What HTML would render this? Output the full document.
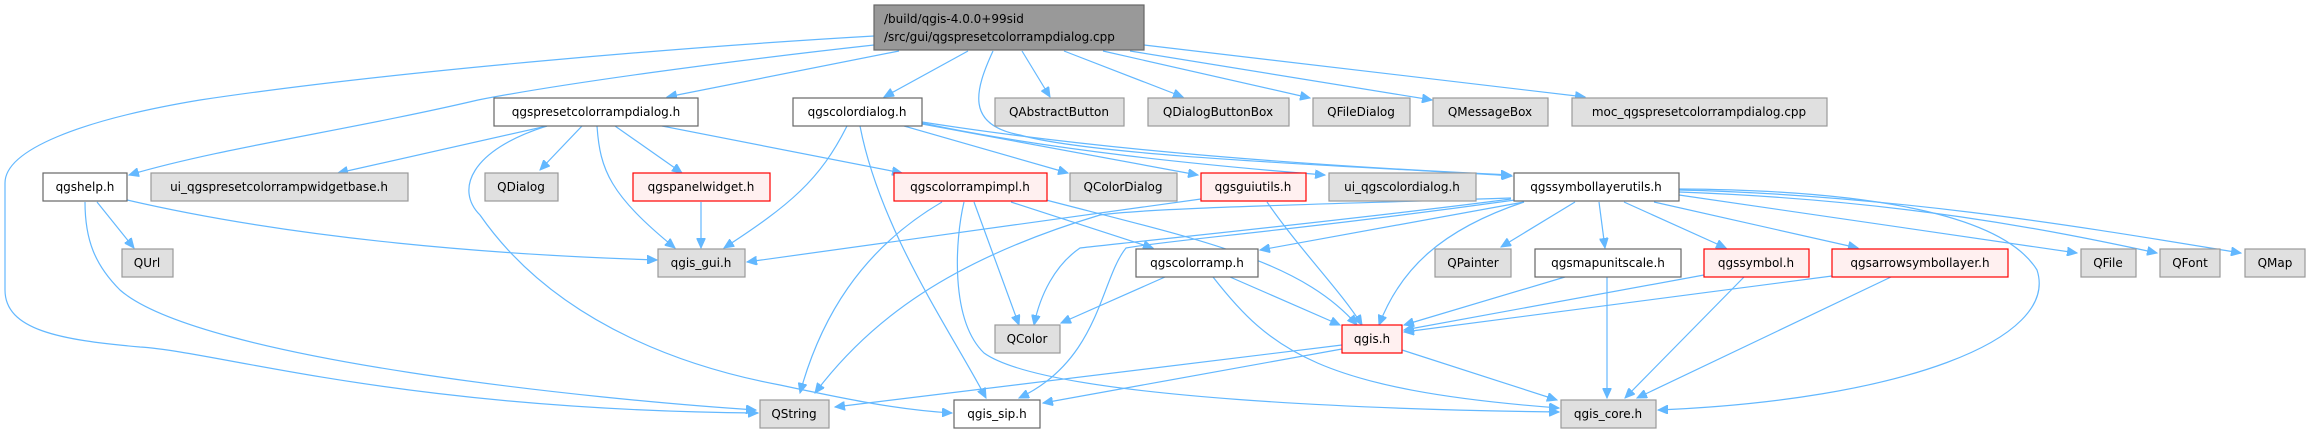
<!DOCTYPE html>
<html><head><meta charset="utf-8"><style>
html,body{margin:0;padding:0;background:#fff;}
svg{display:block;}
text{font-family:"DejaVu Sans","Liberation Sans",sans-serif;font-size:12px;fill:#000;}
.e{fill:none;stroke:#63b8ff;stroke-width:1.2;}
.w{fill:#fff;stroke:#666;stroke-width:1.2;}
.g{fill:#e0e0e0;stroke:#999;stroke-width:1.2;}
.r{fill:#fff0f0;stroke:#ff0000;stroke-width:1.2;}
.m{fill:#999;stroke:#666;stroke-width:1.2;}
</style></head><body>
<svg width="2307" height="434" viewBox="0 0 2307 434" xmlns="http://www.w3.org/2000/svg">
<defs>
<marker id="a" markerUnits="userSpaceOnUse" markerWidth="11" markerHeight="9" refX="10" refY="4.5" orient="auto">
<path d="M0,0 L10,4.5 L0,9 z" fill="#63b8ff" stroke="#63b8ff"/>
</marker>
</defs>
<g marker-end="url(#a)">
<!-- main edges -->
<path class="e" d="M874,36 C700,46 400,70 200,100 C80,120 5,150 5,183 L5,290 C5,330 60,340 140,347 C220,352 400,410 758,413"/>
<path class="e" d="M874,45 C720,62 560,84 478,100 C350,130 220,148 129,175"/>
<path class="e" d="M899,51 L667,97"/>
<path class="e" d="M968,51 L884,97"/>
<path class="e" d="M993,51 C975,90 965,125 1020,135 C1100,158 1400,168 1512,176"/>
<path class="e" d="M1022,51 L1050,97"/>
<path class="e" d="M1064,51 L1183,97"/>
<path class="e" d="M1103,51 L1310,98"/>
<path class="e" d="M1130,51 L1432,100"/>
<path class="e" d="M1144,45 L1585,97"/>
<!-- qgspresetcolorrampdialog.h -->
<path class="e" d="M547,126 L338,173"/>
<path class="e" d="M582,126 L540,170"/>
<path class="e" d="M615,126 L682,173"/>
<path class="e" d="M597,126 C600,170 610,195 675,248"/>
<path class="e" d="M547,126 C470,150 455,190 480,215 C560,330 700,370 780,385 C850,400 900,410 952,413"/>
<path class="e" d="M662,126 L902,173"/>
<!-- qgspanelwidget -->
<path class="e" d="M701,202 L701,248"/>
<!-- qgscolordialog -->
<path class="e" d="M847,126 C820,180 790,205 724,248"/>
<path class="e" d="M860,126 C880,230 950,330 986,398"/>
<path class="e" d="M904,126 L1068,173"/>
<path class="e" d="M922,124 L1198,175"/>
<path class="e" d="M922,123 C1050,150 1200,165 1325,175"/>
<path class="e" d="M922,122 C1100,150 1300,165 1511,175"/>
<!-- qgsguiutils -->
<path class="e" d="M1201,199 L747,262"/>
<path class="e" d="M1267,202 C1300,250 1340,290 1362,325"/>
<!-- qgshelp -->
<path class="e" d="M127,200 C300,240 500,255 657,260"/>
<path class="e" d="M97,202 L134,248"/>
<path class="e" d="M85,202 C85,240 95,265 120,290 C200,360 600,400 756,410"/>
<!-- qgscolorrampimpl -->
<path class="e" d="M942,202 C860,250 820,320 800,393"/>
<path class="e" d="M964,202 C955,240 950,320 984,353 C1050,400 1400,410 1559,412"/>
<path class="e" d="M974,202 L1019,325"/>
<path class="e" d="M1011,202 L1153,248"/>
<path class="e" d="M1046,200 C1200,240 1300,260 1357,325"/>
<!-- qgssymbollayerutils -->
<path class="e" d="M1511,198 C1300,205 1150,208 1100,215 C950,260 870,320 815,393"/>
<path class="e" d="M1511,199 C1350,220 1150,240 1080,248 C1055,265 1040,295 1034,325"/>
<path class="e" d="M1515,200 C1300,230 1170,240 1126,248 C1100,280 1100,360 1019,398"/>
<path class="e" d="M1524,202 L1260,250"/>
<path class="e" d="M1524,202 C1440,230 1400,270 1379,325"/>
<path class="e" d="M1575,202 L1501,247"/>
<path class="e" d="M1599,202 L1605,248"/>
<path class="e" d="M1624,202 L1726,248"/>
<path class="e" d="M1654,202 L1858,248"/>
<path class="e" d="M1679,195 L2077,253"/>
<path class="e" d="M1679,192 C1900,200 2050,230 2157,253"/>
<path class="e" d="M1679,190 C1900,195 2100,230 2241,253"/>
<path class="e" d="M1679,189 C1850,190 2000,210 2037,270 C2060,340 1900,400 1658,410"/>
<!-- qgscolorramp -->
<path class="e" d="M1165,277 L1061,323"/>
<path class="e" d="M1230,277 L1340,325"/>
<path class="e" d="M1213,277 C1270,350 1320,390 1559,408"/>
<!-- qgis.h -->
<path class="e" d="M1342,345 L835,407"/>
<path class="e" d="M1342,349 L1043,403"/>
<path class="e" d="M1402,350 L1557,400"/>
<!-- others to qgis / core -->
<path class="e" d="M1565,277 L1404,325"/>
<path class="e" d="M1607,277 L1607,398"/>
<path class="e" d="M1704,275 L1404,330"/>
<path class="e" d="M1744,277 L1625,398"/>
<path class="e" d="M1832,276 L1404,332"/>
<path class="e" d="M1891,277 L1637,398"/>
</g>
<!-- nodes -->
<rect class="m" x="874" y="5" width="270" height="45"/>
<text x="884" y="23">/build/qgis-4.0.0+99sid</text>
<text x="884" y="41">/src/gui/qgspresetcolorrampdialog.cpp</text>

<g text-anchor="middle">
<rect class="w" x="494" y="98" width="204" height="28"/><text x="596" y="116">qgspresetcolorrampdialog.h</text>
<rect class="w" x="793" y="98" width="129" height="28"/><text x="857" y="116">qgscolordialog.h</text>
<rect class="g" x="995" y="98" width="129" height="28"/><text x="1059" y="116">QAbstractButton</text>
<rect class="g" x="1148" y="98" width="141" height="28"/><text x="1218" y="116">QDialogButtonBox</text>
<rect class="g" x="1313" y="98" width="97" height="28"/><text x="1361" y="116">QFileDialog</text>
<rect class="g" x="1433" y="98" width="115" height="28"/><text x="1490" y="116">QMessageBox</text>
<rect class="g" x="1572" y="98" width="255" height="28"/><text x="1699" y="116">moc_qgspresetcolorrampdialog.cpp</text>

<rect class="w" x="43" y="173" width="84" height="28"/><text x="85" y="191">qgshelp.h</text>
<rect class="g" x="151" y="173" width="257" height="28"/><text x="279" y="191">ui_qgspresetcolorrampwidgetbase.h</text>
<rect class="g" x="485" y="173" width="73" height="28"/><text x="521" y="191">QDialog</text>
<rect class="r" x="633" y="173" width="137" height="28"/><text x="701" y="191">qgspanelwidget.h</text>
<rect class="r" x="894" y="173" width="153" height="28"/><text x="970" y="191">qgscolorrampimpl.h</text>
<rect class="g" x="1070" y="173" width="107" height="28"/><text x="1123" y="191">QColorDialog</text>
<rect class="r" x="1201" y="173" width="105" height="28"/><text x="1253" y="191">qgsguiutils.h</text>
<rect class="g" x="1329" y="173" width="147" height="28"/><text x="1402" y="191">ui_qgscolordialog.h</text>
<rect class="w" x="1514" y="173" width="165" height="28"/><text x="1596" y="191">qgssymbollayerutils.h</text>

<rect class="g" x="122" y="249" width="51" height="28"/><text x="147" y="267">QUrl</text>
<rect class="g" x="658" y="249" width="87" height="28"/><text x="701" y="267">qgis_gui.h</text>
<rect class="w" x="1136" y="249" width="122" height="28"/><text x="1197" y="267">qgscolorramp.h</text>
<rect class="g" x="1435" y="249" width="76" height="28"/><text x="1473" y="267">QPainter</text>
<rect class="w" x="1535" y="249" width="146" height="28"/><text x="1608" y="267">qgsmapunitscale.h</text>
<rect class="r" x="1704" y="249" width="105" height="28"/><text x="1756" y="267">qgssymbol.h</text>
<rect class="r" x="1832" y="249" width="176" height="28"/><text x="1920" y="267">qgsarrowsymbollayer.h</text>
<rect class="g" x="2081" y="249" width="55" height="28"/><text x="2108" y="267">QFile</text>
<rect class="g" x="2160" y="249" width="60" height="28"/><text x="2190" y="267">QFont</text>
<rect class="g" x="2245" y="249" width="60" height="28"/><text x="2275" y="267">QMap</text>

<rect class="g" x="995" y="325" width="65" height="28"/><text x="1027" y="343">QColor</text>
<rect class="r" x="1342" y="325" width="60" height="28"/><text x="1372" y="343">qgis.h</text>

<rect class="g" x="760" y="400" width="69" height="28"/><text x="794" y="418">QString</text>
<rect class="w" x="954" y="400" width="86" height="28"/><text x="997" y="418">qgis_sip.h</text>
<rect class="g" x="1561" y="400" width="95" height="28"/><text x="1608" y="418">qgis_core.h</text>
</g>
</svg>
</body></html>
